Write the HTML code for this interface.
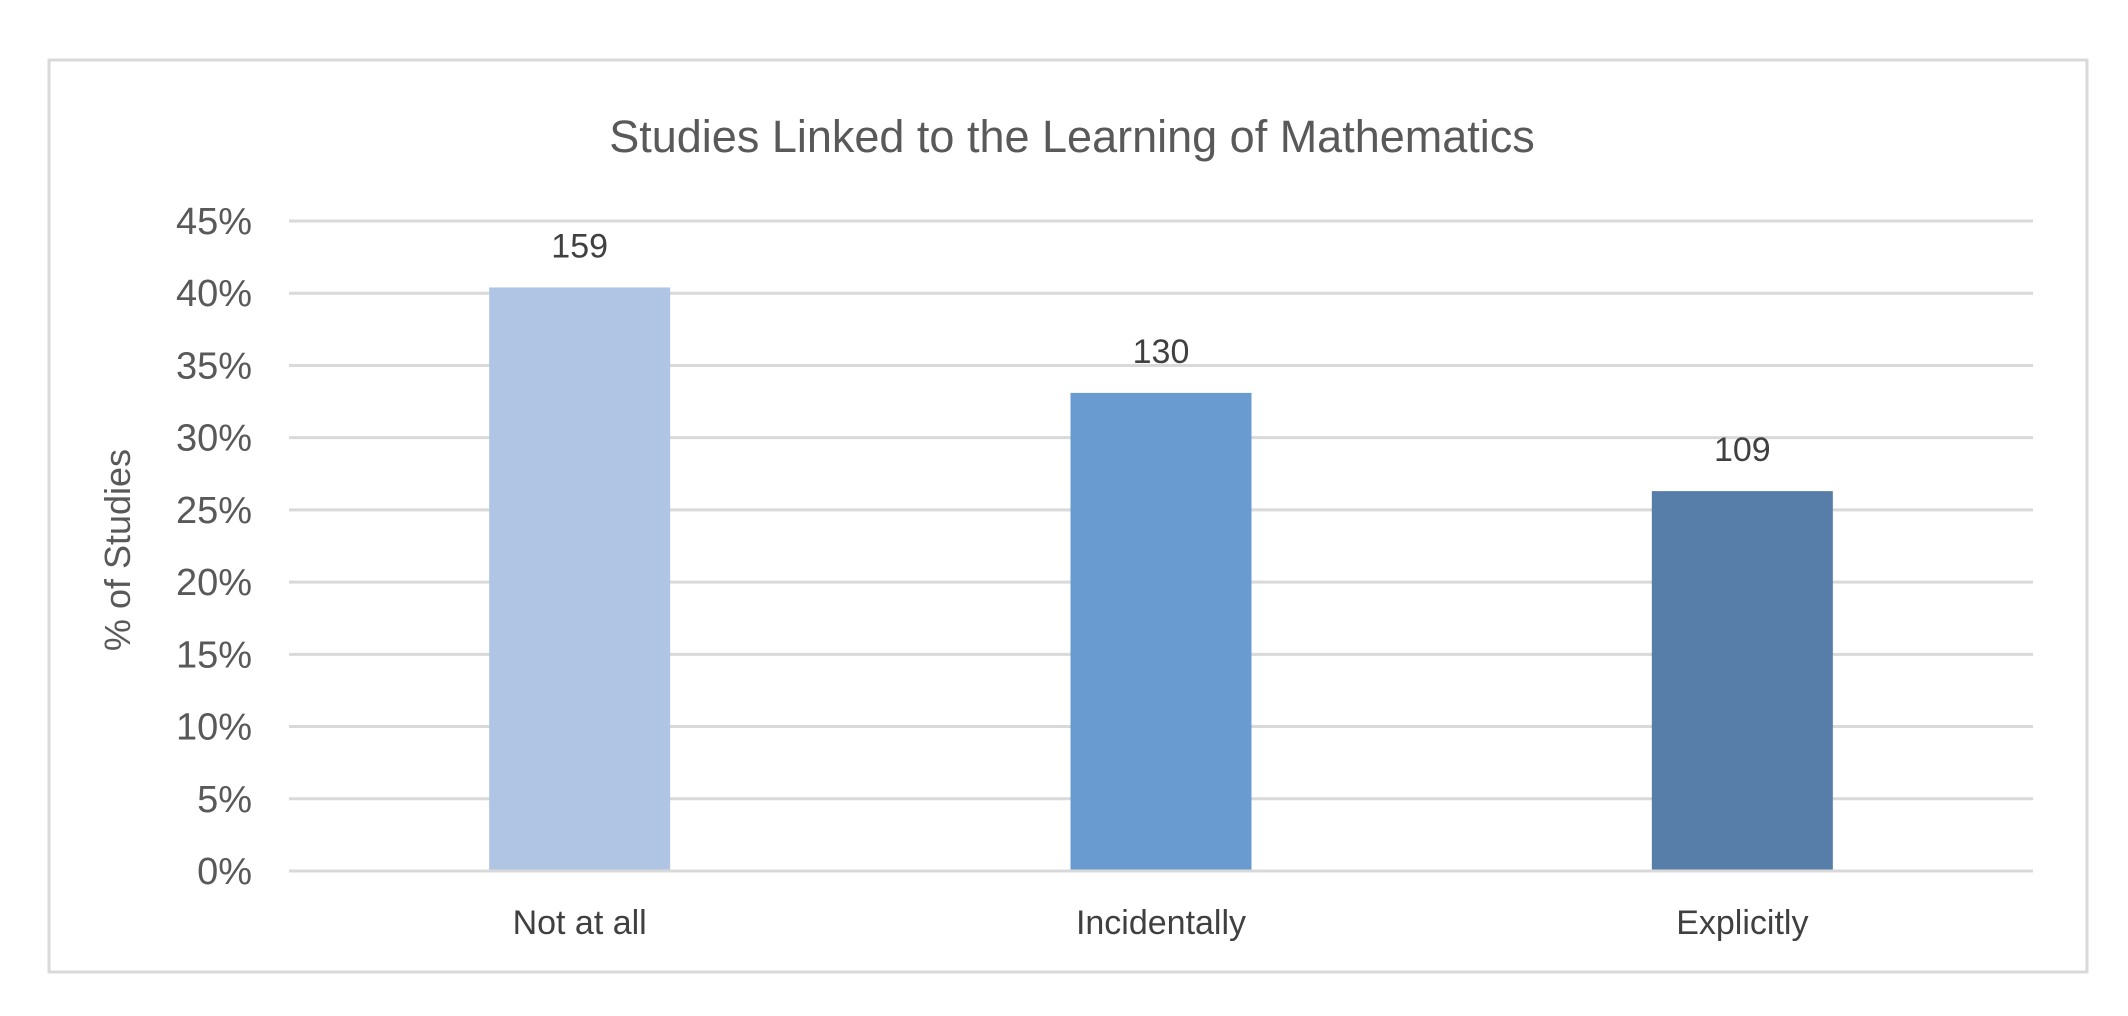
<!DOCTYPE html>
<html><head><meta charset="utf-8"><style>
html,body{margin:0;padding:0;background:#fff;}
svg{display:block;}
</style></head><body>
<svg id="chart" width="2128" height="1016" xmlns="http://www.w3.org/2000/svg">
<rect x="49" y="60" width="2038" height="912" fill="#fff" stroke="#d9d9d9" stroke-width="3"/>
<text x="1072" y="152" text-anchor="middle" font-family="'Liberation Sans',sans-serif" font-size="45" fill="#595959">Studies Linked to the Learning of Mathematics</text>
<text transform="translate(130,550) rotate(-90)" text-anchor="middle" font-family="'Liberation Sans',sans-serif" font-size="36" fill="#595959">% of Studies</text>
<g id="grid"></g><g id="bars"></g><g id="labels"></g>
</svg>
<script>
const categories = ["Not at all", "Incidentally", "Explicitly"];
const percents = [40.4, 33.1, 26.3];
const counts = ["159", "130", "109"];
const yTicks = [0, 5, 10, 15, 20, 25, 30, 35, 40, 45];
const colors = ["#b0c5e3", "#699bd0", "#567ea9"];

const NS = "http://www.w3.org/2000/svg";
const plotL = 289, plotR = 2033, plotT = 221, plotB = 871, yMax = 45;
const y = v => plotB - (v / yMax) * (plotB - plotT);
const band = (plotR - plotL) / categories.length;
const xc = i => plotL + band * (i + 0.5);
const barW = 181;
function mk(tag, attrs, parent) {
  const e = document.createElementNS(NS, tag);
  for (const k in attrs) e.setAttribute(k, attrs[k]);
  parent.appendChild(e);
  return e;
}
const grid = document.getElementById('grid');
const bars = document.getElementById('bars');
const labels = document.getElementById('labels');
yTicks.forEach(t => {
  const l = mk('line', {x1: plotL, x2: plotR, y1: y(t), y2: y(t), stroke: '#d9d9d9', 'stroke-width': 3}, grid);
  
  
  const tx = mk('text', {x: 252, y: y(t) + 13, 'text-anchor': 'end', 'font-family': "'Liberation Sans',sans-serif", 'font-size': 38, fill: '#595959'}, grid);
  tx.textContent = t + '%';
  
  
});
categories.forEach((c, i) => {
  const r = mk('rect', {x: xc(i) - barW / 2, y: y(percents[i]), width: barW, height: plotB - 1.5 - y(percents[i]), fill: colors[i]}, bars);
  
  
  const v = mk('text', {x: xc(i), y: y(percents[i]) - 30, 'text-anchor': 'middle', 'font-family': "'Liberation Sans',sans-serif", 'font-size': 34, fill: '#404040'}, labels);
  v.textContent = counts[i];
  
  
  const cl = mk('text', {x: xc(i), y: 934, 'text-anchor': 'middle', 'font-family': "'Liberation Sans',sans-serif", 'font-size': 34, fill: '#404040'}, labels);
  cl.textContent = c;
  
  
});
</script>
</body></html>
